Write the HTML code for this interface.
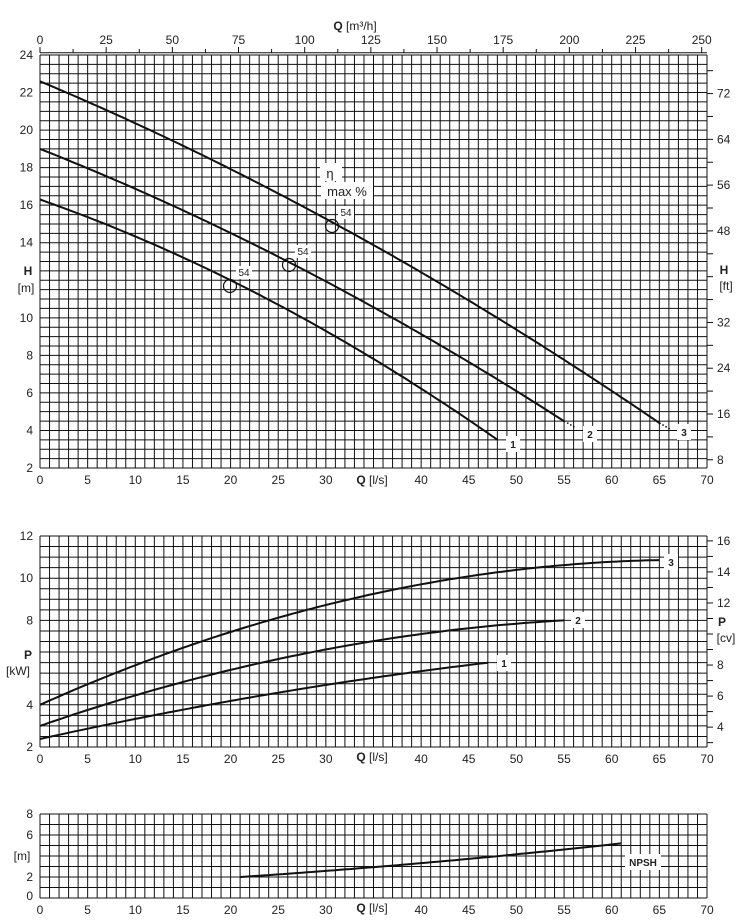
<!DOCTYPE html>
<html><head><meta charset="utf-8">
<style>
html,body{margin:0;padding:0;background:#fff;}
svg{display:block;font-family:"Liberation Sans",Arial,sans-serif;}
</style></head>
<body>
<svg id="s" width="739" height="922" viewBox="0 0 739 922" xmlns="http://www.w3.org/2000/svg"></svg>
<script>
var s=document.getElementById('s'),h='';
var X0=40,X1=707,px=(X1-X0)/70;
function X(q){return X0+q*px;}
function ln(a,b,c,d,w){h+='<line x1="'+a+'" y1="'+b+'" x2="'+c+'" y2="'+d+'" stroke="#111" stroke-width="'+(w||1)+'"/>';}
function tx(x,y,t,anc,sz,extra){h+='<text x="'+x+'" y="'+y+'" font-size="'+(sz||12)+'" text-anchor="'+(anc||'middle')+'" fill="#222" '+(extra||'')+'>'+t+'</text>';}
function grid(yt,yb,rows){
  for(var i=0;i<=70;i++){ln(X(i),yt,X(i),yb,1);}
  for(var j=0;j<=rows;j++){var y=yt+(yb-yt)*j/rows;ln(X0,y,X1,y,1);}
  for(var k=0;k<=70;k+=5){tx(X(k),yb+16,k);}
}
function curve(f,a,b,Y,w){var d='';for(var q=a;q<=b+1e-9;q+=0.5){d+=(d?'L':'M')+X(q).toFixed(1)+','+Y(f(q)).toFixed(1);}
 h+='<path d="'+d+'" fill="none" stroke="#111" stroke-width="'+(w||2)+'"/>';}
function box(x,y,w,hh){h+='<rect x="'+x+'" y="'+y+'" width="'+w+'" height="'+hh+'" fill="#fff"/>';}
// TOP
var T0=55,T1=468;function YH(m){return T1-(m-2)*(T1-T0)/22;}
grid(T0,T1,44);
ln(X0,52.7,X1,52.7,1);
for(var m3=0;m3<=250;m3+=12.5){var xx=X(m3/3.6);ln(xx,52.7,xx,(m3%25==0)?47:49,1);}
for(var m3=0;m3<=250;m3+=25){tx(X(m3/3.6),44,m3);}
tx(355,30,'<tspan font-weight="bold">Q</tspan> [m³/h]');
for(var m=2;m<=24;m+=2){if(m==12)continue;tx(33,YH(m)+4,m,'end');}
tx(28,275,'H','middle',12,'font-weight="bold"');tx(26,292,'[m]');
for(var ft=8;ft<=76;ft+=4){var y=YH(ft*0.3048);if(y<T0)continue;ln(X1,y,X1+6,y,1);if(ft%8==0&&ft!=40)tx(717,y+4,ft,'start');}
tx(724,274,'H','middle',12,'font-weight="bold"');tx(726,290,'[ft]');
curve(function(q){return 22.6-0.2134*q-0.001025*q*q;},0,65,YH);
curve(function(q){return 19-0.2013*q-0.001135*q*q;},0,55,YH);
curve(function(q){return 16.3-0.178*q-0.001845*q*q;},0,48,YH);
h+='<path d="M'+X(65)+','+YH(4.4)+' L'+X(66.2)+','+YH(4.05)+'" stroke="#111" stroke-width="1.5" stroke-dasharray="1.5,2"/>';
h+='<path d="M'+X(55)+','+YH(4.5)+' L'+X(56.2)+','+YH(4.15)+'" stroke="#111" stroke-width="1.5" stroke-dasharray="1.5,2"/>';
box(506,436,14,16);tx(513,448,'1','middle',10,'font-weight="bold"');
box(583,426,14,16);tx(590,438,'2','middle',10,'font-weight="bold"');
box(677,424,14,16);tx(684,436,'3','middle',10,'font-weight="bold"');
[[230,286],[289,265],[332,226]].forEach(function(c){h+='<circle cx="'+c[0]+'" cy="'+c[1]+'" r="6.5" fill="none" stroke="#111" stroke-width="1.2"/>';box(c[0]+6,c[1]-20,16,13);tx(c[0]+14,c[1]-10,'54','middle',10);});
box(320,163,22,18);tx(330,178,'η','middle',13);
box(321,182,52,17);tx(347,196,'max %','middle',13);
box(352,472,40,16);tx(372,484,'<tspan font-weight="bold">Q</tspan> [l/s]');
// MIDDLE
var M0=536,M1=747;function YP(k){return M1-(k-2)*(M1-M0)/10;}
grid(M0,M1,20);
box(352,749,40,16);tx(372,761,'<tspan font-weight="bold">Q</tspan> [l/s]');
for(var k=2;k<=12;k+=2){if(k==6)continue;tx(33,YP(k)+4,k,'end');}
tx(28,659,'P','middle',12,'font-weight="bold"');tx(18,675,'[kW]');
for(var cv=3;cv<=16;cv++){var y=YP(cv/1.3596);if(y<M0-1)continue;ln(X1,y,X1+6,y,1);if(cv%2==0&&cv!=10)tx(717,y+4,cv,'start');}
tx(722,626,'P','middle',12,'font-weight="bold"');tx(726,642,'[cv]');
curve(function(q){return 4+0.2023*q-0.001489*q*q;},0,65,YP);
curve(function(q){return 3+0.1566*q-0.001194*q*q;},0,55,YP);
curve(function(q){return 2.38+0.1*q-0.00049*q*q;},0,47,YP);
box(497,655,14,16);tx(504,667,'1','middle',10,'font-weight="bold"');
box(571,612,14,16);tx(578,624,'2','middle',10,'font-weight="bold"');
box(664,554,14,16);tx(671,566,'3','middle',10,'font-weight="bold"');
// BOTTOM
var B0=814,B1=898;function YN(m){return B1-m*(B1-B0)/8;}
grid(B0,B1,8);
box(352,900,40,16);tx(372,912,'<tspan font-weight="bold">Q</tspan> [l/s]');
for(var m=0;m<=8;m+=2){if(m==4)continue;tx(33,YN(m)+4+(m==0?-2:0),m,'end');}
tx(22,860,'[m]');
curve(function(q){var t=q-21;return 2.0+0.06*t+0.0005*t*t;},21,61,YN);
box(625,854,36,16);tx(643,866,'NPSH','middle',10,'font-weight="bold"');
s.innerHTML=h;
</script>
</body></html>
